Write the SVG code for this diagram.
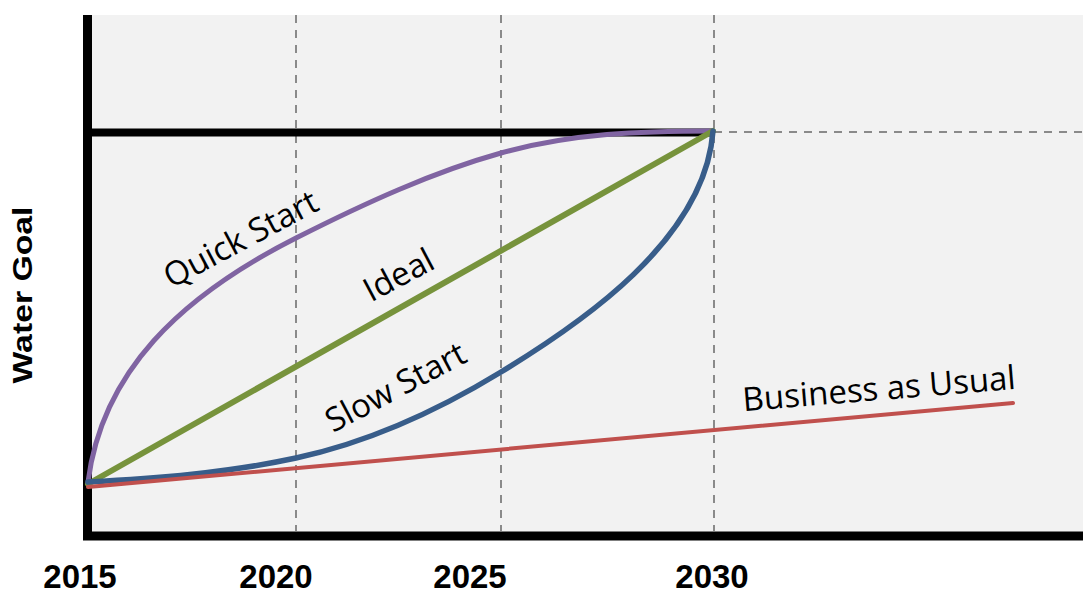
<svg xmlns="http://www.w3.org/2000/svg" width="1083" height="595" viewBox="0 0 1083 595">
<style>
.grid{stroke:#8a8a8a;stroke-width:2;stroke-dasharray:8 7;fill:none}
.axis{stroke:#000;stroke-width:9;fill:none}
.curve{fill:none;stroke-linecap:round;stroke-linejoin:round}
.lbl{font-family:"Open Sans","Liberation Sans",sans-serif;font-size:33px;fill:#000;text-anchor:middle}
.year{font-family:"Liberation Sans",Arial,sans-serif;font-weight:bold;font-size:33px;fill:#000;text-anchor:middle}
</style>
<rect x="0" y="0" width="1083" height="595" fill="#fff"/>
<rect id="plot" x="88" y="15" width="995" height="521" fill="#f2f2f2"/>
<g id="grid">
<line class="grid" x1="296" y1="15" x2="296" y2="531"/>
<line class="grid" x1="501" y1="15" x2="501" y2="531"/>
<line class="grid" x1="714" y1="15" x2="714" y2="531"/>
<line class="grid" x1="714" y1="132" x2="1083" y2="132"/>
</g>
<g id="axes">
<line class="axis" x1="87.5" y1="15" x2="87.5" y2="540"/>
<line class="axis" x1="83" y1="536" x2="1083" y2="536"/>
<line x1="88" y1="132.5" x2="713" y2="132.5" stroke="#000" stroke-width="8"/>
</g>
<g id="connectors">
<path id="quick" class="curve" stroke="#8064a2" stroke-width="5" d="M88,482 C102,372 180,296.7 296,238 C364.3,203.4 432.7,172.1 501,153 C571.7,133.2 642.3,131 713,131"/>
<line id="ideal" class="curve" stroke="#77933c" stroke-width="6" x1="88" y1="484" x2="713" y2="131"/>
<path id="slow" class="curve" stroke="#385d8a" stroke-width="5.5" d="M88,482 C157.3,478.5 226.7,472.9 296,458 C364.3,443.3 432.7,413.7 501,372 C580,324 705,240 713,131"/>
<line id="bau" class="curve" stroke="#c0504d" stroke-width="4" x1="88" y1="487" x2="1013" y2="403"/>
</g>
<g id="labels">
<text class="lbl" transform="translate(246,249) rotate(-28)">Quick Start</text>
<text class="lbl" transform="translate(404,285) rotate(-28)">Ideal</text>
<text class="lbl" transform="translate(401,397) rotate(-28)">Slow Start</text>
<text class="lbl" transform="translate(880,400) rotate(-4.7)">Business as Usual</text>
</g>
<g id="yaxis-title">
<text transform="translate(32,295) rotate(-90)" font-family="Liberation Sans, Arial, sans-serif" font-weight="bold" font-size="28" text-anchor="middle" textLength="177" lengthAdjust="spacingAndGlyphs">Water Goal</text>
</g>
<g id="years">
<text class="year" x="80" y="588">2015</text>
<text class="year" x="276" y="588">2020</text>
<text class="year" x="470" y="588">2025</text>
<text class="year" x="712" y="588">2030</text>
</g>
</svg>
